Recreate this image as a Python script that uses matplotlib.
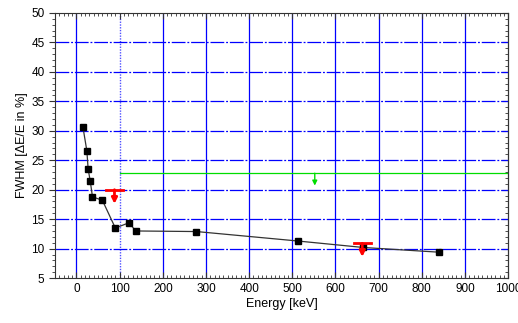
import matplotlib
matplotlib.use('Agg')
import matplotlib.pyplot as plt
from matplotlib.ticker import MultipleLocator

plt.rcParams['font.family'] = ['Liberation Sans', 'DejaVu Sans']

# measured points
energy = [15, 24, 27, 32, 37, 60, 90, 122, 137, 278, 512, 664, 839]
fwhm = [30.6, 26.6, 23.5, 21.4, 18.8, 18.2, 13.5, 14.4, 13.0, 12.9, 11.3, 10.2, 9.4]

# upper limits (red)
ul_energy = [88, 662]
ul_value = [20.0, 10.9]
ul_drop = [2.4, 2.3]

# green limit
lim_start = 100
lim_value = 22.8
lim_arrow_x = 552

fig = plt.figure(figsize=(5.18, 3.23), dpi=100)
ax = fig.add_axes([0.106, 0.139, 0.875, 0.821])

ax.set_xlim(-50, 1000)
ax.set_ylim(5, 50)

# grid
for xv in range(0, 1000, 100):
    if xv == 100:
        ax.axvline(xv, color='#5050ff', lw=1.0, ls=(0, (1, 1)), zorder=1)
    else:
        ax.axvline(xv, color='#0000ff', lw=0.9, ls='-', zorder=1)
for yv in range(10, 50, 5):
    ax.axhline(yv, color='#0000ff', lw=0.9, ls=(0, (11, 1.5, 1.5, 1.5)), zorder=1)

# green line + arrow
ax.plot([lim_start, 1000], [lim_value, lim_value], color='#00dd00', lw=0.9, zorder=2)
ax.annotate('', xy=(lim_arrow_x, lim_value - 2.1), xytext=(lim_arrow_x, lim_value),
            arrowprops=dict(arrowstyle='-|>', color='#00dd00', lw=1, mutation_scale=7,
                            shrinkA=0, shrinkB=0), zorder=3)

# data
ax.plot(energy, fwhm, color='#333333', lw=0.9, zorder=3)
ax.plot(energy, fwhm, 's', color='black', ms=5, zorder=4)

# upper limits
for e, v, d in zip(ul_energy, ul_value, ul_drop):
    ax.plot([e - 20, e + 20], [v, v], color='red', lw=2, zorder=5)
    ax.annotate('', xy=(e, v - d), xytext=(e, v),
                arrowprops=dict(arrowstyle='-|>', color='red', lw=2, mutation_scale=8,
                                shrinkA=0, shrinkB=0), zorder=5)

ax.xaxis.set_major_locator(MultipleLocator(100))
ax.xaxis.set_minor_locator(MultipleLocator(10))
ax.yaxis.set_major_locator(MultipleLocator(5))
ax.yaxis.set_minor_locator(MultipleLocator(1))
ax.tick_params(axis='x', which='both', direction='in', top=True, labelsize=8.5, color='#333333')
ax.tick_params(axis='y', which='both', direction='out', right=False, labelsize=8.5, color='#333333')
ax.tick_params(which='major', length=4)
ax.tick_params(which='minor', length=2.5)
# right side ticks pointing inward
ay = ax.secondary_yaxis('right')
ay.yaxis.set_major_locator(MultipleLocator(5))
ay.yaxis.set_minor_locator(MultipleLocator(1))
ay.tick_params(which='both', direction='in', labelright=False, color='#333333')
ay.tick_params(which='major', length=4)
ay.tick_params(which='minor', length=2.5)

for s in ax.spines.values():
    s.set_color('#333333')

ax.set_xlabel('Energy [keV]', fontsize=9, labelpad=2)
ax.set_ylabel('FWHM [ΔE/E in %]', fontsize=9, labelpad=2)

plt.savefig('out.png', dpi=100)
